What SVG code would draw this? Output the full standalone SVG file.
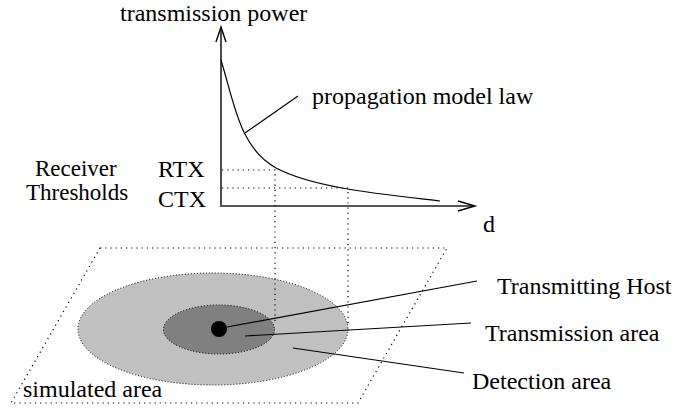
<svg xmlns="http://www.w3.org/2000/svg" width="679" height="410" viewBox="0 0 679 410">
  <style>
    text { font-family: "Liberation Serif", "Times New Roman", "DejaVu Serif", serif; font-size: 24px; fill: #000; }
    .small { font-size: 23px; }
    .axis { stroke: #000; stroke-width: 1.4; fill: none; }
    .xaxis { stroke: #555; stroke-width: 2; fill: none; }
    .line { stroke: #000; stroke-width: 1.2; fill: none; }
    .dots { stroke: #000; stroke-width: 1.2; fill: none; stroke-dasharray: 1.2 4; }
    .edge { stroke: #000; stroke-width: 1; stroke-dasharray: 1 2; }
  </style>

  <!-- power vs. distance plot -->
  <g id="plot">
    <line class="axis" x1="221" y1="207" x2="221" y2="27"/>
    <polyline class="axis" points="216,42 221,27 226,42"/>
    <line class="xaxis" x1="220" y1="206" x2="474" y2="206"/>
    <polyline class="axis" points="458,201 475,206 458,211"/>
    <path class="line" d="M221,60 C235,106 240,148 276,168 C314,188 380,194 440,201"/>
    <text x="120" y="21">transmission power</text>
    <text x="483" y="232">d</text>
  </g>

  <g id="label-model">
    <text x="312" y="104">propagation model law</text>
  </g>

  <g id="thresholds">
    <text class="small" x="35" y="176">Receiver</text>
    <text class="small" x="26" y="200">Thresholds</text>
    <text x="158" y="177">RTX</text>
    <text x="158" y="207">CTX</text>
  </g>

  <!-- simulated area (ground plane) -->
  <g id="simulated-area">
    <polygon class="dots" points="100,248 447,248 358,403 11,403"/>
    <text x="23" y="397">simulated area</text>
  </g>

  <g id="detection-area">
    <ellipse class="edge" cx="213" cy="329" rx="135" ry="56" fill="#c0c0c0"/>
  </g>

  <g id="transmission-area">
    <ellipse class="edge" cx="219" cy="329.5" rx="55.5" ry="24.5" fill="#808080"/>
  </g>

  <g id="host">
    <circle cx="219" cy="329" r="8" fill="#000"/>
  </g>

  <g id="label-host"><text x="497" y="294">Transmitting Host</text></g>
  <g id="label-transmission"><text x="485" y="341">Transmission area</text></g>
  <g id="label-detection"><text x="472" y="389">Detection area</text></g>

  <!-- connectors: projections and leaders -->
  <g id="connectors">
    <polyline class="dots" points="222,170 275,170 275,325"/>
    <polyline class="dots" points="222,188 348,188 348,327"/>
    <line class="line" x1="245" y1="133" x2="298" y2="96"/>
    <line class="line" x1="227" y1="327" x2="477" y2="281"/>
    <line class="line" x1="245" y1="336" x2="471" y2="323"/>
    <line class="line" x1="293" y1="348" x2="464" y2="373"/>
  </g>
</svg>
